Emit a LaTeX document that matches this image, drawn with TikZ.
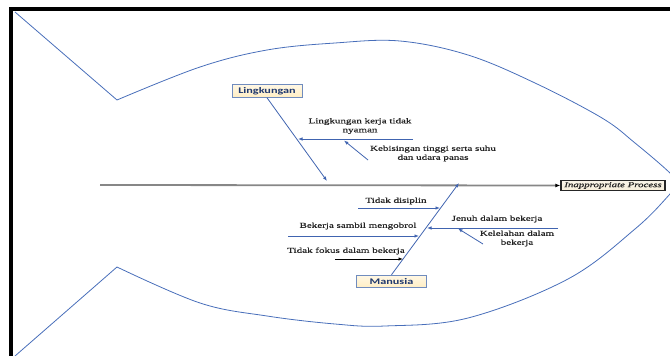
\documentclass[tikz,border=0pt]{standalone}
\usepackage{fontspec}
\usetikzlibrary{arrows.meta}
% widened faces for the labels and the category boxes
\newfontfamily\lblfont[FakeStretch=1.45,FakeBold=0.6]{Liberation Serif}
\newfontfamily\catfont[FakeStretch=1.42]{Carlito}
\definecolor{bone}{RGB}{64,100,176}
\definecolor{fishline}{RGB}{72,110,186}
\definecolor{spinegray}{RGB}{135,135,135}
\definecolor{cattext}{RGB}{31,56,110}
\definecolor{catedge}{RGB}{112,140,190}
\definecolor{catfill}{RGB}{255,238,196}
\definecolor{efffill}{RGB}{246,238,218}
\definecolor{lbltext}{RGB}{35,35,35}

\begin{document}
\begin{tikzpicture}[x=1pt,y=-1pt,
  lbl/.style={font=\lblfont\fontsize{7.6}{9}\selectfont, text=lbltext, align=center, inner sep=0pt},
  cat/.style={draw=catedge, line width=1pt, top color=white!55!catfill, bottom color=catfill,
    font=\catfont\bfseries\fontsize{8.6}{10}\selectfont, text=cattext,
    minimum width=70pt, minimum height=12.5pt, inner sep=0pt},
  effect/.style={draw=black!85, line width=1.3pt, top color=white!40!efffill, bottom color=efffill,
    font=\lblfont\itshape\fontsize{7.5}{9}\selectfont, text=lbltext,
    minimum width=104pt, minimum height=10.5pt, inner sep=0pt},
  bonearrow/.style={draw=bone, line width=0.8pt, -{Latex[length=4.5pt,width=3.4pt]}},
  blackarrow/.style={draw=black, line width=0.8pt, -{Latex[length=4.5pt,width=3.4pt]}},
  spine/.style={draw=spinegray, line width=1.8pt, -{Latex[length=5pt,width=4pt,color=black]}},
  fish/.style={draw=fishline, line width=0.8pt}
]
\useasboundingbox (0,0) rectangle (670,356);
\clip (0,0) rectangle (670,356);

% frame (top and left edges)
\draw[line width=4pt, black] (11,360) -- (11,9) -- (675,9);

% fish outline: tail and body
\draw[fish] (15,12) -- (117,100);
\draw[fish] (117,267) -- (15,356);
\draw[fish] plot[smooth, tension=0.6] coordinates {(117,100) (200,67) (267,50) (335,43) (400,41)
  (468,55) (535,83) (602,118) (635,143) (670,173) (684,190)};
\draw[fish] plot[smooth, tension=0.6] coordinates {(117,267) (200,303) (267,316) (335,324) (385,326)
  (468,318) (568,279) (635,229) (670,194) (684,176)};

% effect and spine
\node[effect] (eff) at (613,185.5) {Inappropriate Process};
\coordinate (tail) at (100,185);
\draw[spine] (tail) -- (eff.west);

% category: Lingkungan
\node[cat] (lk) at (267,91) {Lingkungan};
\coordinate (lkTip) at (327,181);
\draw[bonearrow] (lk.south) -- (lkTip);

\coordinate (lk1s) at (413,139);
\coordinate (lk1e) at (298,139);
\draw[bonearrow] (lk1s) -- (lk1e);
\node[lbl] (lk1) at (360,126) {Lingkungan kerja tidak\\nyaman};

\coordinate (lk2s) at (368,160);
\coordinate (lk2e) at (344,140.5);
\draw[bonearrow] (lk2s) -- (lk2e);
\node[lbl] (lk2) at (433,153.5) {Kebisingan tinggi serta suhu\\dan udara panas};

% category: Manusia
\node[cat] (mn) at (391.5,281.5) {Manusia};
\coordinate (mnTip) at (459,183);
\draw[bonearrow] (mn.north) -- (mnTip);

\coordinate (mn1s) at (358,208);
\coordinate (mn1e) at (440,208);
\draw[bonearrow] (mn1s) -- (mn1e);
\node[lbl] (mn1) at (396,201) {Tidak disiplin};

\coordinate (mn2s) at (288,236);
\coordinate (mn2e) at (419,236);
\draw[bonearrow] (mn2s) -- (mn2e);
\node[lbl] (mn2) at (358,226) {Bekerja sambil mengobrol};

\coordinate (mn3s) at (335,259);
\coordinate (mn3e) at (403,259);
\draw[blackarrow] (mn3s) -- (mn3e);
\node[lbl] (mn3) at (346,251) {Tidak fokus dalam bekerja};

\coordinate (mn4s) at (558,228);
\coordinate (mn4e) at (427,228);
\draw[bonearrow] (mn4s) -- (mn4e);
\node[lbl] (mn4) at (497,219) {Jenuh dalam bekerja};

\coordinate (mn5s) at (483,244);
\coordinate (mn5e) at (458,228.5);
\draw[bonearrow] (mn5s) -- (mn5e);
\node[lbl] (mn5) at (517,238.5) {Kelelahan dalam\\bekerja};
\end{tikzpicture}
\end{document}
